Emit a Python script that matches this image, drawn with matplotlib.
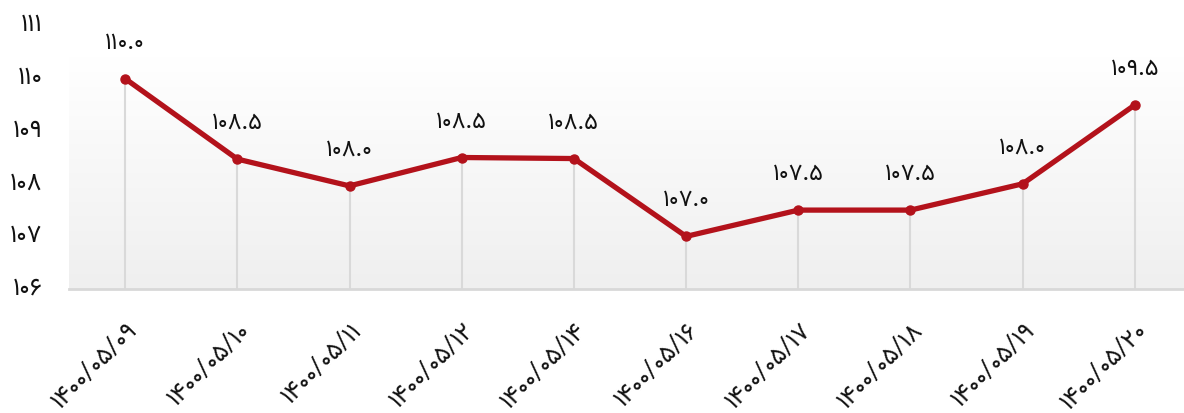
import matplotlib
matplotlib.use("Agg")
import matplotlib.pyplot as plt
import matplotlib.transforms as mtransforms
import numpy as np

categories = ["۱۴۰۰/۰۵/۰۹", "۱۴۰۰/۰۵/۱۰", "۱۴۰۰/۰۵/۱۱", "۱۴۰۰/۰۵/۱۲", "۱۴۰۰/۰۵/۱۴",
              "۱۴۰۰/۰۵/۱۶", "۱۴۰۰/۰۵/۱۷", "۱۴۰۰/۰۵/۱۸", "۱۴۰۰/۰۵/۱۹", "۱۴۰۰/۰۵/۲۰"]
values = [110.0, 108.47, 107.96, 108.5, 108.48, 107.0, 107.5, 107.5, 108.0, 109.5]
value_labels = ["۱۱۰.۰", "۱۰۸.۵", "۱۰۸.۰", "۱۰۸.۵", "۱۰۸.۵", "۱۰۷.۰", "۱۰۷.۵", "۱۰۷.۵", "۱۰۸.۰", "۱۰۹.۵"]
y_ticks = [106, 107, 108, 109, 110, 111]
y_tick_labels = ["۱۰۶", "۱۰۷", "۱۰۸", "۱۰۹", "۱۱۰", "۱۱۱"]

plt.rcParams['font.family'] = ['Vazirmatn', 'DejaVu Sans']

W, H = 1184, 414
fig = plt.figure(figsize=(W / 100, H / 100), dpi=100)
left_px, right_px, top_px, bot_px = 69, 1191, 27, 290
ax = fig.add_axes([left_px / W, 1 - bot_px / H, (right_px - left_px) / W, (bot_px - top_px) / H])

x = np.arange(len(categories))
ax.set_xlim(-0.5, len(categories) - 0.5)
ax.set_ylim(106, 111)

# background gradient (white at top -> light gray at bottom)
grad = np.linspace(0, 1, 256).reshape(-1, 1)
top_c = np.array([1.0, 1.0, 1.0])
bot_c = np.array([0xef, 0xef, 0xef]) / 255
frac = np.clip(grad / 0.88, 0, 1)
img = (bot_c + (top_c - bot_c) * frac).reshape(256, 1, 3)
ax.imshow(img, extent=[0, 1, 0, 1], transform=ax.transAxes, origin='lower',
          aspect='auto', zorder=0, interpolation='bilinear')

# drop lines
ax.vlines(x, 106, values, colors='#d9d9d9', linewidth=1.5, zorder=1)

ax.plot(x, values, color='#b3121b', linewidth=3.8, marker='o', markersize=6.5,
        solid_capstyle='round', zorder=3)

for xi, v, lab in zip(x, values, value_labels):
    ax.annotate(lab, (xi, v), xytext=(0, 27), textcoords='offset points',
                ha='center', va='center', fontsize=17, color='#111111', fontweight='medium')

for s in ['left', 'right', 'top']:
    ax.spines[s].set_visible(False)
ax.spines['bottom'].set_color('#d8d8d8')
ax.spines['bottom'].set_linewidth(2)

ax.set_yticks(y_ticks)
ax.set_yticklabels(y_tick_labels, fontsize=18, color='#111111', fontweight='medium')
ax.tick_params(axis='y', length=0, pad=19)
offset = mtransforms.ScaledTranslation(0, 5 / 100, fig.dpi_scale_trans)
for lab in ax.get_yticklabels():
    lab.set_transform(lab.get_transform() + offset)

ax.set_xticks(x)
ax.set_xticklabels(categories, fontsize=18, color='#111111', rotation=45,
                   ha='right', va='top', rotation_mode='anchor', fontweight='medium')
ax.tick_params(axis='x', length=0, pad=20)

fig.savefig("out.png", dpi=100)
